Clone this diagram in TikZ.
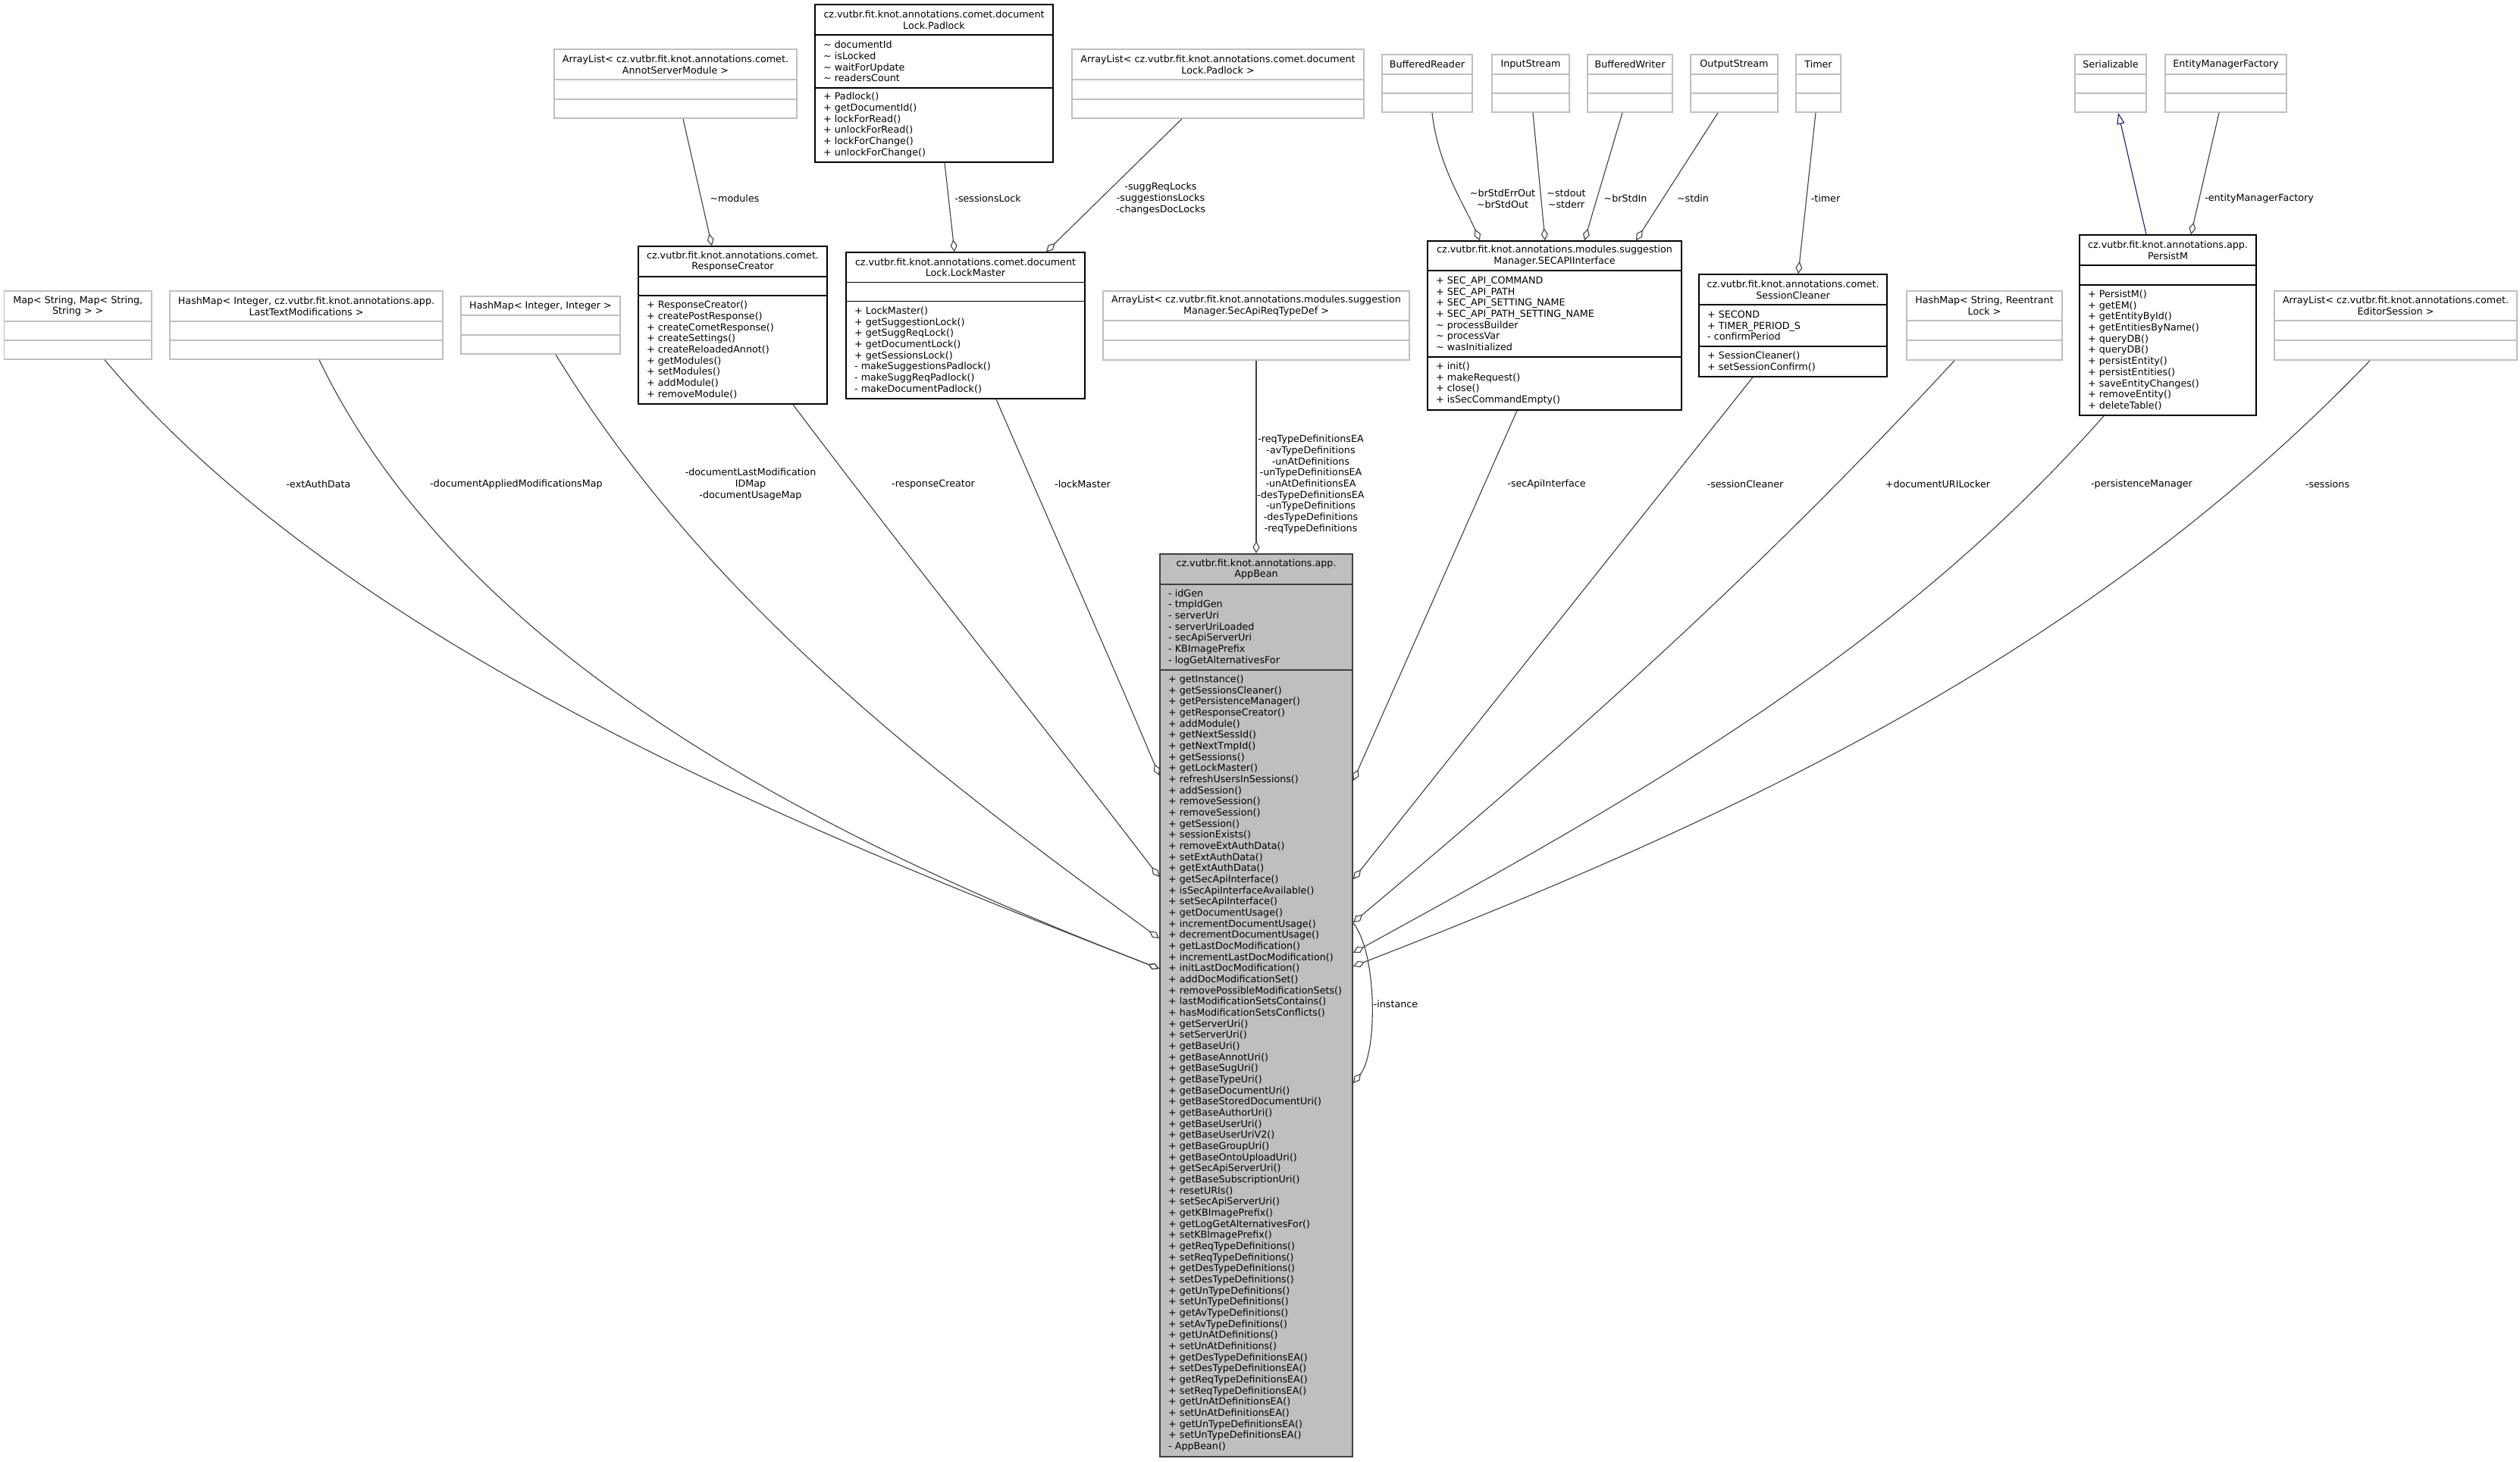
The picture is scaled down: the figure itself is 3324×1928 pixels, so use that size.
\documentclass[tikz,border=0pt]{standalone}
\usepackage{fontspec}
\setmainfont{DejaVu Sans}
\usetikzlibrary{arrows.meta}
\definecolor{edgecol}{HTML}{404040}
\definecolor{greybox}{HTML}{BFBFBF}
\definecolor{inhcol}{HTML}{191970}
\newcommand{\tld}{\textasciitilde}
\newcommand{\dfont}{\fontsize{12.7}{14.67}\selectfont}
\newcommand{\umlclass}[8]{%
  \pgfmathsetmacro\ucX{(#3+#5)/2}%
  \pgfmathsetmacro\ucY{(#4+#6)/2}%
  \pgfmathsetmacro\ucW{#5-#3}%
  \pgfmathsetmacro\ucH{#6-#4}%
  \pgfmathsetmacro\ucT{(#4+#7)/2}%
  \pgfmathsetmacro\ucA{(#7+#8)/2}%
  \pgfmathsetmacro\ucM{(#8+#6)/2}%
  \pgfmathsetmacro\ucL{#3+11}%
  \node[box#2, minimum width=\ucW pt, minimum height=\ucH pt] (#1) at (\ucX,\ucY) {};
  \draw[div#2] (#3,#7) -- (#5,#7) (#3,#8) -- (#5,#8);
  \coordinate (#1-t) at (\ucX,\ucT);
  \coordinate (#1-a) at (\ucL,\ucA);
  \coordinate (#1-m) at (\ucL,\ucM);
}
\begin{document}
\begin{tikzpicture}[x=1pt,y=-1pt,
  boxg/.style={draw=greybox, line width=1.6pt, fill=white, inner sep=0pt},
  divg/.style={draw=greybox, line width=1.6pt},
  boxb/.style={draw=black, line width=1.6pt, fill=white, inner sep=0pt},
  divb/.style={draw=black, line width=1.6pt},
  boxa/.style={draw=edgecol, line width=2pt, fill=greybox, inner sep=0pt},
  diva/.style={draw=edgecol, line width=2pt},
  ttl/.style={align=center, inner sep=0pt, font=\dfont},
  mem/.style={anchor=west, align=left, inner sep=0pt, font=\dfont},
  lbl/.style={align=center, inner sep=0pt, font=\dfont},
  agg/.style={draw=edgecol, line width=1.1pt, -{Diamond[open, length=16pt, width=9pt]}},
  inh/.style={draw=inhcol, line width=1.1pt, -{Triangle[open, length=15pt, width=10pt]}},
]
\fill[white] (0,0) rectangle (3324,1928);
\useasboundingbox (0,0) rectangle (3324,1928);

% ---------- top row ----------
\umlclass{padlock}{b}{1075}{6}{1389}{214}{46}{116}
\node[ttl] (padlock-title) at (padlock-t) {cz.vutbr.fit.knot.annotations.comet.document\\Lock.Padlock};
\node[mem] (padlock-attr) at (padlock-a) {\tld\ documentId\\\tld\ isLocked\\\tld\ waitForUpdate\\\tld\ readersCount};
\node[mem] (padlock-meth) at (padlock-m) {+ Padlock()\\+ getDocumentId()\\+ lockForRead()\\+ unlockForRead()\\+ lockForChange()\\+ unlockForChange()};

\umlclass{annot}{g}{731}{65}{1051}{156}{105}{131}
\node[ttl] (annot-title) at (annot-t) {ArrayList< cz.vutbr.fit.knot.annotations.comet.\\AnnotServerModule >};

\umlclass{alpad}{g}{1414}{65}{1799}{156}{105}{131}
\node[ttl] (alpad-title) at (alpad-t) {ArrayList< cz.vutbr.fit.knot.annotations.comet.document\\Lock.Padlock >};

\umlclass{bufr}{g}{1823}{72}{1942}{148}{98}{123}
\node[ttl] (bufr-title) at (bufr-t) {BufferedReader};
\umlclass{instr}{g}{1968}{72}{2070}{148}{98}{123}
\node[ttl] (instr-title) at (instr-t) {InputStream};
\umlclass{bufw}{g}{2094}{72}{2206}{148}{98}{123}
\node[ttl] (bufw-title) at (bufw-t) {BufferedWriter};
\umlclass{outs}{g}{2230}{72}{2345}{148}{98}{123}
\node[ttl] (outs-title) at (outs-t) {OutputStream};
\umlclass{timer}{g}{2369}{72}{2428}{148}{98}{123}
\node[ttl] (timer-title) at (timer-t) {Timer};
\umlclass{serial}{g}{2737}{72}{2831}{148}{98}{123}
\node[ttl] (serial-title) at (serial-t) {Serializable};
\umlclass{emf}{g}{2856}{72}{3016}{148}{98}{123}
\node[ttl] (emf-title) at (emf-t) {EntityManagerFactory};

% ---------- second row ----------
\umlclass{respcr}{b}{842}{325}{1091}{533}{365}{390}
\node[ttl] (respcr-title) at (respcr-t) {cz.vutbr.fit.knot.annotations.comet.\\ResponseCreator};
\node[mem] (respcr-meth) at (respcr-m) {+ ResponseCreator()\\+ createPostResponse()\\+ createCometResponse()\\+ createSettings()\\+ createReloadedAnnot()\\+ getModules()\\+ setModules()\\+ addModule()\\+ removeModule()};

\umlclass{lockm}{b}{1116}{333}{1431}{526}{372.5}{397.5}
\node[ttl] (lockm-title) at (lockm-t) {cz.vutbr.fit.knot.annotations.comet.document\\Lock.LockMaster};
\node[mem] (lockm-meth) at (lockm-m) {+ LockMaster()\\+ getSuggestionLock()\\+ getSuggReqLock()\\+ getDocumentLock()\\+ getSessionsLock()\\- makeSuggestionsPadlock()\\- makeSuggReqPadlock()\\- makeDocumentPadlock()};

\umlclass{map}{g}{5.5}{384}{200}{474}{424}{449}
\node[ttl] (map-title) at (map-t) {Map< String, Map< String,\\String > >};
\umlclass{ltm}{g}{224}{384}{584}{474}{424}{449}
\node[ttl] (ltm-title) at (ltm-t) {HashMap< Integer, cz.vutbr.fit.knot.annotations.app.\\LastTextModifications >};
\umlclass{intint}{g}{608}{391}{818}{467}{416}{442}
\node[ttl] (intint-title) at (intint-t) {HashMap< Integer, Integer >};
\umlclass{secreq}{g}{1455}{384}{1859}{475}{423}{449}
\node[ttl] (secreq-title) at (secreq-t) {ArrayList< cz.vutbr.fit.knot.annotations.modules.suggestion\\Manager.SecApiReqTypeDef >};

\umlclass{secapi}{b}{1883}{318}{2218}{541}{357}{471}
\node[ttl] (secapi-title) at (secapi-t) {cz.vutbr.fit.knot.annotations.modules.suggestion\\Manager.SECAPIInterface};
\node[mem] (secapi-attr) at (secapi-a) {+ SEC\_API\_COMMAND\\+ SEC\_API\_PATH\\+ SEC\_API\_SETTING\_NAME\\+ SEC\_API\_PATH\_SETTING\_NAME\\\tld\ processBuilder\\\tld\ processVar\\\tld\ wasInitialized};
\node[mem] (secapi-meth) at (secapi-m) {+ init()\\+ makeRequest()\\+ close()\\+ isSecCommandEmpty()};

\umlclass{sesscl}{b}{2241}{362}{2489}{497}{402}{457}
\node[ttl] (sesscl-title) at (sesscl-t) {cz.vutbr.fit.knot.annotations.comet.\\SessionCleaner};
\node[mem] (sesscl-attr) at (sesscl-a) {+ SECOND\\+ TIMER\_PERIOD\_S\\- confirmPeriod};
\node[mem] (sesscl-meth) at (sesscl-m) {+ SessionCleaner()\\+ setSessionConfirm()};

\umlclass{hmrl}{g}{2515}{384}{2720}{475}{423}{449}
\node[ttl] (hmrl-title) at (hmrl-t) {HashMap< String, Reentrant\\Lock >};

\umlclass{persistm}{b}{2743}{310}{2976}{548}{350}{376}
\node[ttl] (persistm-title) at (persistm-t) {cz.vutbr.fit.knot.annotations.app.\\PersistM};
\node[mem] (persistm-meth) at (persistm-m) {+ PersistM()\\+ getEM()\\+ getEntityById()\\+ getEntitiesByName()\\+ queryDB()\\+ queryDB()\\+ persistEntity()\\+ persistEntities()\\+ saveEntityChanges()\\+ removeEntity()\\+ deleteTable()};

\umlclass{editor}{g}{3000}{384}{3320}{475}{423}{449}
\node[ttl] (editor-title) at (editor-t) {ArrayList< cz.vutbr.fit.knot.annotations.comet.\\EditorSession >};

% ---------- AppBean ----------
\umlclass{appbean}{a}{1530}{731}{1784}{1922}{771}{884}
\node[ttl] (appbean-title) at (appbean-t) {cz.vutbr.fit.knot.annotations.app.\\AppBean};
\node[mem] (appbean-attr) at (appbean-a) {- idGen\\- tmpIdGen\\- serverUri\\- serverUriLoaded\\- secApiServerUri\\- KBImagePrefix\\- logGetAlternativesFor};
\node[mem] (appbean-meth) at (appbean-m) {+ getInstance()\\+ getSessionsCleaner()\\+ getPersistenceManager()\\+ getResponseCreator()\\+ addModule()\\+ getNextSessId()\\+ getNextTmpId()\\+ getSessions()\\+ getLockMaster()\\+ refreshUsersInSessions()\\+ addSession()\\+ removeSession()\\+ removeSession()\\+ getSession()\\+ sessionExists()\\+ removeExtAuthData()\\+ setExtAuthData()\\+ getExtAuthData()\\+ getSecApiInterface()\\+ isSecApiInterfaceAvailable()\\+ setSecApiInterface()\\+ getDocumentUsage()\\+ incrementDocumentUsage()\\+ decrementDocumentUsage()\\+ getLastDocModification()\\+ incrementLastDocModification()\\+ initLastDocModification()\\+ addDocModificationSet()\\+ removePossibleModificationSets()\\+ lastModificationSetsContains()\\+ hasModificationSetsConflicts()\\+ getServerUri()\\+ setServerUri()\\+ getBaseUri()\\+ getBaseAnnotUri()\\+ getBaseSugUri()\\+ getBaseTypeUri()\\+ getBaseDocumentUri()\\+ getBaseStoredDocumentUri()\\+ getBaseAuthorUri()\\+ getBaseUserUri()\\+ getBaseUserUriV2()\\+ getBaseGroupUri()\\+ getBaseOntoUploadUri()\\+ getSecApiServerUri()\\+ getBaseSubscriptionUri()\\+ resetURIs()\\+ setSecApiServerUri()\\+ getKBImagePrefix()\\+ getLogGetAlternativesFor()\\+ setKBImagePrefix()\\+ getReqTypeDefinitions()\\+ setReqTypeDefinitions()\\+ getDesTypeDefinitions()\\+ setDesTypeDefinitions()\\+ getUnTypeDefinitions()\\+ setUnTypeDefinitions()\\+ getAvTypeDefinitions()\\+ setAvTypeDefinitions()\\+ getUnAtDefinitions()\\+ setUnAtDefinitions()\\+ getDesTypeDefinitionsEA()\\+ setDesTypeDefinitionsEA()\\+ getReqTypeDefinitionsEA()\\+ setReqTypeDefinitionsEA()\\+ getUnAtDefinitionsEA()\\+ setUnAtDefinitionsEA()\\+ getUnTypeDefinitionsEA()\\+ setUnTypeDefinitionsEA()\\- AppBean()};

% ---------- upper connectors ----------
\draw[agg] ([xshift=10pt]annot.south) -- ([xshift=-27.5pt]respcr.north);
\draw[agg] ([xshift=14pt]padlock.south) -- ([xshift=-14.5pt]lockm.north);
\draw[agg] ([xshift=-47.5pt]alpad.south) -- ([xshift=106.5pt]lockm.north);
\draw[agg] ([xshift=6.5pt]bufr.south) .. controls +(8,70) and +(-22,-50) .. ([xshift=-98.5pt]secapi.north);
\draw[agg] ([xshift=3pt]instr.south) -- ([xshift=-12.5pt]secapi.north);
\draw[agg] ([xshift=-10pt]bufw.south) -- ([xshift=39.5pt]secapi.north);
\draw[agg] ([xshift=-21.5pt]outs.south) -- ([xshift=107.5pt]secapi.north);
\draw[agg] ([xshift=-3.5pt]timer.south) -- ([xshift=7pt]sesscl.north);
\draw[inh] ([xshift=-28.5pt]persistm.north) -- ([xshift=10pt]serial.south);
\draw[agg] ([xshift=-9pt]emf.south) -- ([xshift=30.5pt]persistm.north);
\draw[agg] (secreq.south) -- (appbean.north);

% ---------- lower connectors ----------
\draw[agg] ([xshift=35.25pt]map.south) .. controls (460,857) and (1065,1098) .. ([yshift=48.5pt]appbean.west);
\draw[agg] ([xshift=17pt]ltm.south) .. controls (616,879) and (1111,1116) .. ([yshift=48.5pt]appbean.west);
\draw[agg] ([xshift=20pt]intint.south) .. controls (931,791) and (1223,1015) .. ([yshift=88.5pt]appbean.west);
\draw[agg] ([xshift=79.5pt]respcr.south) .. controls (1202,741) and (1372,952) .. ([yshift=169.5pt]appbean.west);
\draw[agg] ([xshift=40.5pt]lockm.south) .. controls (1385,691) and (1459,857) .. ([yshift=303.5pt]appbean.west);
\draw[agg] ([xshift=-49.5pt]secapi.south) -- ([yshift=296.5pt]appbean.east);
\draw[agg] ([xshift=-53pt]sesscl.south) -- ([yshift=166.5pt]appbean.east);
\draw[agg] ([xshift=-39.5pt]hmrl.south) .. controls (2320,755) and (2078,971) .. ([yshift=109.5pt]appbean.east);
\draw[agg] ([xshift=-84.5pt]persistm.south) .. controls (2498,863) and (2153,1055) .. ([yshift=69.5pt]appbean.east);
\draw[agg] ([xshift=-34pt]editor.south) .. controls (2752,865) and (2287,1080) .. ([yshift=51.5pt]appbean.east);
\draw[agg] ([yshift=108.5pt]appbean.east) .. controls +(32,40) and +(32,-40) .. ([yshift=-102.5pt]appbean.east);

% ---------- labels ----------
\node[lbl] (l1) at (969,262) {\tld modules};
\node[lbl] (l2) at (1303,262) {-sessionsLock};
\node[lbl] (l3) at (1531,262) {-suggReqLocks\\-suggestionsLocks\\-changesDocLocks};
\node[lbl] (l4) at (1982,262) {\tld brStdErrOut\\\tld brStdOut};
\node[lbl] (l5) at (2066,262) {\tld stdout\\\tld stderr};
\node[lbl] (l6) at (2144,262) {\tld brStdIn};
\node[lbl] (l7) at (2233,262) {\tld stdin};
\node[lbl] (l8) at (2408,262) {-timer};
\node[lbl] (l10) at (2980,262) {-entityManagerFactory};
\node[lbl] (l11) at (1729,639) {-reqTypeDefinitionsEA\\-avTypeDefinitions\\-unAtDefinitions\\-unTypeDefinitionsEA\\-unAtDefinitionsEA\\-desTypeDefinitionsEA\\-unTypeDefinitions\\-desTypeDefinitions\\-reqTypeDefinitions};
\node[lbl] (l12) at (420,639) {-extAuthData};
\node[lbl] (l13) at (681,639) {-documentAppliedModificationsMap};
\node[lbl] (l14) at (990,639) {-documentLastModification\\IDMap\\-documentUsageMap};
\node[lbl] (l15) at (1231,639) {-responseCreator};
\node[lbl] (l16) at (1428,639) {-lockMaster};
\node[lbl] (l17) at (2040,639) {-secApiInterface};
\node[lbl] (l18) at (2302,639) {-sessionCleaner};
\node[lbl] (l19) at (2556,639) {+documentURILocker};
\node[lbl] (l20) at (2825,639) {-persistenceManager};
\node[lbl] (l21) at (3070,639) {-sessions};
\node[lbl] (l22) at (1841,1325) {-instance};
\end{tikzpicture}
\end{document}
